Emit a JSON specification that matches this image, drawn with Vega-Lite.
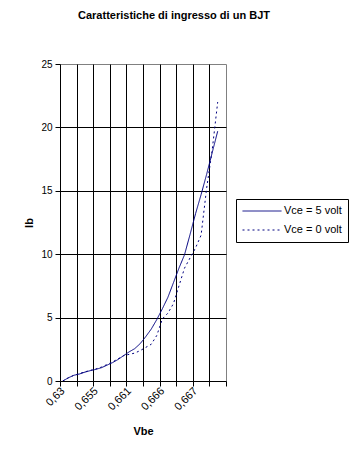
{
  "$schema": "https://vega.github.io/schema/vega-lite/v6.json",
  "width": 166,
  "height": 317,
  "autosize": {"type": "none"},
  "padding": {"left": 60, "top": 64, "right": 127, "bottom": 80},
  "background": "white",
  "config": {
    "font": "Liberation Sans",
    "view": {"stroke": "#808080", "strokeWidth": 1}
  },
  "title": {
    "text": "Caratteristiche di ingresso di un BJT",
    "font": "Liberation Sans",
    "fontSize": 11,
    "fontWeight": "bold",
    "color": "black",
    "anchor": "middle",
    "dx": 31,
    "offset": 38
  },
  "data": {
    "values": [
      {"n": 0, "Vce": "Vce = 5 volt", "Ib": 0},
      {"n": 1, "Vce": "Vce = 5 volt", "Ib": 0.25},
      {"n": 2, "Vce": "Vce = 5 volt", "Ib": 0.45},
      {"n": 3, "Vce": "Vce = 5 volt", "Ib": 0.55},
      {"n": 4, "Vce": "Vce = 5 volt", "Ib": 0.7},
      {"n": 5, "Vce": "Vce = 5 volt", "Ib": 0.82},
      {"n": 6, "Vce": "Vce = 5 volt", "Ib": 0.92},
      {"n": 7, "Vce": "Vce = 5 volt", "Ib": 1.05},
      {"n": 8, "Vce": "Vce = 5 volt", "Ib": 1.25},
      {"n": 9, "Vce": "Vce = 5 volt", "Ib": 1.45},
      {"n": 10, "Vce": "Vce = 5 volt", "Ib": 1.7},
      {"n": 11, "Vce": "Vce = 5 volt", "Ib": 2.0},
      {"n": 12, "Vce": "Vce = 5 volt", "Ib": 2.3},
      {"n": 13, "Vce": "Vce = 5 volt", "Ib": 2.55},
      {"n": 14, "Vce": "Vce = 5 volt", "Ib": 2.95},
      {"n": 15, "Vce": "Vce = 5 volt", "Ib": 3.5},
      {"n": 16, "Vce": "Vce = 5 volt", "Ib": 4.1},
      {"n": 17, "Vce": "Vce = 5 volt", "Ib": 4.85},
      {"n": 18, "Vce": "Vce = 5 volt", "Ib": 5.7},
      {"n": 19, "Vce": "Vce = 5 volt", "Ib": 6.6},
      {"n": 20, "Vce": "Vce = 5 volt", "Ib": 7.75},
      {"n": 21, "Vce": "Vce = 5 volt", "Ib": 8.9},
      {"n": 22, "Vce": "Vce = 5 volt", "Ib": 9.95},
      {"n": 23, "Vce": "Vce = 5 volt", "Ib": 11.55},
      {"n": 24, "Vce": "Vce = 5 volt", "Ib": 13.2},
      {"n": 25, "Vce": "Vce = 5 volt", "Ib": 14.7},
      {"n": 26, "Vce": "Vce = 5 volt", "Ib": 16.3},
      {"n": 27, "Vce": "Vce = 5 volt", "Ib": 18.0},
      {"n": 28, "Vce": "Vce = 5 volt", "Ib": 19.7},
      {"n": 0, "Vce": "Vce = 0 volt", "Ib": 0},
      {"n": 1, "Vce": "Vce = 0 volt", "Ib": 0.25},
      {"n": 2, "Vce": "Vce = 0 volt", "Ib": 0.45},
      {"n": 3, "Vce": "Vce = 0 volt", "Ib": 0.58},
      {"n": 4, "Vce": "Vce = 0 volt", "Ib": 0.72},
      {"n": 5, "Vce": "Vce = 0 volt", "Ib": 0.84},
      {"n": 6, "Vce": "Vce = 0 volt", "Ib": 0.95},
      {"n": 7, "Vce": "Vce = 0 volt", "Ib": 1.1},
      {"n": 8, "Vce": "Vce = 0 volt", "Ib": 1.3},
      {"n": 9, "Vce": "Vce = 0 volt", "Ib": 1.5},
      {"n": 10, "Vce": "Vce = 0 volt", "Ib": 1.75},
      {"n": 11, "Vce": "Vce = 0 volt", "Ib": 2.0},
      {"n": 12, "Vce": "Vce = 0 volt", "Ib": 2.1},
      {"n": 13, "Vce": "Vce = 0 volt", "Ib": 2.2},
      {"n": 14, "Vce": "Vce = 0 volt", "Ib": 2.4},
      {"n": 15, "Vce": "Vce = 0 volt", "Ib": 2.65},
      {"n": 16, "Vce": "Vce = 0 volt", "Ib": 2.9},
      {"n": 17, "Vce": "Vce = 0 volt", "Ib": 3.6},
      {"n": 18, "Vce": "Vce = 0 volt", "Ib": 4.9},
      {"n": 19, "Vce": "Vce = 0 volt", "Ib": 5.35},
      {"n": 20, "Vce": "Vce = 0 volt", "Ib": 6.1},
      {"n": 21, "Vce": "Vce = 0 volt", "Ib": 7.5},
      {"n": 22, "Vce": "Vce = 0 volt", "Ib": 8.9},
      {"n": 23, "Vce": "Vce = 0 volt", "Ib": 9.7},
      {"n": 24, "Vce": "Vce = 0 volt", "Ib": 10.5},
      {"n": 25, "Vce": "Vce = 0 volt", "Ib": 11.5},
      {"n": 26, "Vce": "Vce = 0 volt", "Ib": 15.2},
      {"n": 27, "Vce": "Vce = 0 volt", "Ib": 18.2},
      {"n": 28, "Vce": "Vce = 0 volt", "Ib": 22.0}
    ]
  },
  "mark": {"type": "line", "color": "#000080", "strokeWidth": 1, "clip": true},
  "encoding": {
    "x": {
      "field": "n",
      "type": "quantitative",
      "scale": {"domain": [-0.5, 29.5], "nice": false, "zero": false},
      "axis": {
        "title": "Vbe",
        "titleFont": "Liberation Sans",
        "titleFontSize": 11,
        "titleFontWeight": "bold",
        "titleColor": "black",
        "titlePadding": 14,
        "values": [-0.5, 0, 2.5, 5.5, 6, 8.5, 11.5, 12, 14.5, 17.5, 18, 20.5, 23.5, 24, 26.5, 29.5],
        "labelExpr": "datum.value === 0 ? '0,63' : datum.value === 6 ? '0,655' : datum.value === 12 ? '0,661' : datum.value === 18 ? '0,666' : datum.value === 24 ? '0,667' : ''",
        "labelAngle": -45,
        "labelAlign": "right",
        "labelBaseline": "middle",
        "labelFontSize": 11,
        "labelColor": "black",
        "labelPadding": 3,
        "labelOverlap": false,
        "labelFlush": false,
        "labelBound": false,
        "domainColor": "black",
        "domainWidth": 1,
        "tickColor": "black",
        "tickSize": 5,
        "tickOpacity": {"condition": {"test": "datum.value % 1 !== 0", "value": 1}, "value": 0},
        "grid": true,
        "gridColor": "black",
        "gridWidth": 1,
        "gridOpacity": {"condition": {"test": "datum.value % 1 !== 0 && datum.value > 0 && datum.value < 29", "value": 1}, "value": 0}
      }
    },
    "y": {
      "field": "Ib",
      "type": "quantitative",
      "scale": {"domain": [0, 25], "nice": false},
      "axis": {
        "title": "Ib",
        "titleFont": "Liberation Sans",
        "titleFontSize": 11,
        "titleFontWeight": "bold",
        "titleColor": "black",
        "titlePadding": 6,
        "values": [0, 5, 10, 15, 20, 25],
        "labelFontSize": 10,
        "labelColor": "black",
        "labelPadding": 3,
        "domainColor": "black",
        "tickColor": "black",
        "tickSize": 5,
        "grid": true,
        "gridColor": "black",
        "gridWidth": 1,
        "gridOpacity": {"condition": {"test": "datum.value > 0 && datum.value < 25", "value": 1}, "value": 0}
      }
    },
    "strokeDash": {
      "field": "Vce",
      "type": "nominal",
      "scale": {"domain": ["Vce = 5 volt", "Vce = 0 volt"], "range": [[1, 0], [2, 3]]},
      "legend": {
        "title": null,
        "orient": "none",
        "legendX": 176,
        "legendY": 135,
        "symbolType": "stroke",
        "symbolSize": 1521,
        "symbolStrokeColor": "#000080",
        "symbolStrokeWidth": 1,
        "clipHeight": 12,
        "labelFontSize": 11,
        "labelColor": "black",
        "labelOffset": 2,
        "rowPadding": 7,
        "padding": 6,
        "strokeColor": "black",
        "fillColor": "white"
      }
    }
  }
}
